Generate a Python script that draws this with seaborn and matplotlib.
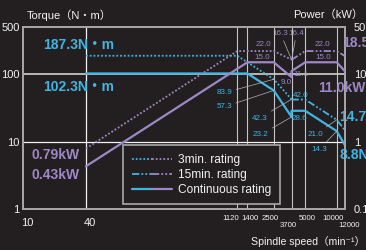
import numpy as np
import pandas as pd
import matplotlib
matplotlib.use("Agg")
import matplotlib.pyplot as plt
import seaborn as sns
from matplotlib.lines import Line2D
from matplotlib.legend_handler import HandlerTuple

# ---------------- data ----------------
low_3min_speed = [40, 1120, 2500, 3700]
low_3min_torque = [187.3, 187.3, 83.9, 42.3]
low_3min_power = [0.79, 22.0, 22.0, 16.4]

high_15min_speed = [3700, 5000, 10000, 12000]
high_15min_torque = [42.0, 42.0, 21.0, 14.7]
high_15min_power = [16.3, 22.0, 22.0, 18.5]

cont_torque_speed = [40, 1400, 2500, 3700, 3700, 5000, 10000, 12000]
cont_torque = [102.3, 102.3, 57.3, 23.2, 28.6, 28.6, 14.3, 8.8]
cont_power_speed = [40, 1400, 2500, 3700, 3700, 5000, 10000, 12000]
cont_power = [0.43, 15.0, 15.0, 9.0, 11.1, 15.0, 15.0, 11.0]

speed_ticks = [10, 40, 1120, 1400, 2500, 3700, 5000, 10000, 12000]
speed_tick_labels = ["10", "40", "1120", "1400", "2500", "3700", "5000", "10000", "12000"]
torque_ticks = [1, 10, 100, 500]
torque_tick_labels = ["1", "10", "100", "500"]
power_ticks = [0.1, 1, 10, 50]
power_tick_labels = ["0.1", "1", "10", "50"]
legend_labels = ["3min. rating", "15min. rating", "Continuous rating"]

# ---------------- style ----------------
BG = "#231f20"
CYAN = "#3fb5e3"
PURPLE = "#9d88c6"
GRID = "#c4c4c4"
WHITE = "#f2f2f2"
SPINE = "#a8a8a8"
LEADER = "#b4b4b4"

sns.set_theme(style="dark")
plt.rcParams["font.family"] = ["Liberation Sans", "Noto Sans CJK JP", "DejaVu Sans"]

fig = plt.figure(figsize=(3.66, 2.5), dpi=100, facecolor=BG)
L, R, T, B = 23, 345, 27, 209
W, H = 366, 250
ax = fig.add_axes([L / W, 1 - B / H, (R - L) / W, (B - T) / H])
ax.set_facecolor(BG)
ax2 = ax.twinx()
ax2.patch.set_visible(False)

for a in (ax, ax2):
    a.set_xscale("log")
    a.set_yscale("log")
    a.grid(False)
    for s in a.spines.values():
        s.set_color(SPINE)
        s.set_linewidth(1.2)
ax.set_xlim(10, 12000)
ax.set_ylim(1, 500)
ax2.set_ylim(0.1, 50)

# reference lines
for v in speed_ticks[2:-1]:
    ax.axvline(v, color=GRID, lw=0.8, zorder=1)
ax.axvline(speed_ticks[1], color=WHITE, lw=0.9, zorder=1)
ax.axhline(torque_ticks[2], color=GRID, lw=1.3, zorder=1)
ax.axhline(torque_ticks[1], color=WHITE, lw=0.9, zorder=1)

# ticks
ax.set_xticks(speed_ticks)
ax.set_xticklabels([])
ax.xaxis.set_minor_locator(matplotlib.ticker.NullLocator())
ax.set_yticks(torque_ticks)
ax.set_yticklabels(torque_tick_labels)
ax.yaxis.set_minor_locator(matplotlib.ticker.NullLocator())
ax2.set_yticks(power_ticks)
ax2.set_yticklabels(power_tick_labels)
ax2.yaxis.set_minor_locator(matplotlib.ticker.NullLocator())
ax.tick_params(axis="both", length=0, colors=WHITE, labelsize=8, pad=2.5)
ax2.tick_params(axis="y", length=0, colors=WHITE, labelsize=8, pad=6.5)
ax2.tick_params(axis="x", length=0)

big = {"10", "40"}
xoff = {"10": 4, "40": 4, "1120": -7, "1400": 3, "2500": -4, "3700": -3,
        "5000": 2, "10000": -4, "12000": 4}
lower = {"3700", "12000"}
for v, lab in zip(speed_ticks, speed_tick_labels):
    fs = 8 if lab in big else 5.6
    dy = -9 if lab in big else -6
    if lab in lower:
        dy = -13
    ax.annotate(lab, xy=(v, 0), xycoords=("data", "axes fraction"),
                xytext=(xoff[lab], dy), textcoords="offset pixels",
                ha="center", va="top", fontsize=fs, color=WHITE,
                annotation_clip=False)

# ---------------- curves ----------------
DOT = (1.0, 1.1)
DASHDOT = (4, 1.2, 1, 1.2, 1, 1.2)
LW_D, LW_S = 1.3, 1.6

def draw(a, xs, ys, color, dashes, lw):
    df = pd.DataFrame({"speed": xs, "value": ys})
    sns.lineplot(data=df, x="speed", y="value", ax=a, color=color,
                 estimator=None, sort=False, lw=lw, zorder=3,
                 dashes=False, legend=False)
    line = a.lines[-1]
    if dashes is not None:
        line.set_dashes(dashes)

draw(ax, low_3min_speed, low_3min_torque, CYAN, DOT, LW_D)
draw(ax, high_15min_speed, high_15min_torque, CYAN, DASHDOT, LW_D)
draw(ax, cont_torque_speed, cont_torque, CYAN, None, LW_S)
draw(ax2, low_3min_speed, low_3min_power, PURPLE, DOT, LW_D)
draw(ax2, high_15min_speed, high_15min_power, PURPLE, DASHDOT, LW_D)
draw(ax2, cont_power_speed, cont_power, PURPLE, None, LW_S)
ax.set_xlabel("")
ax.set_ylabel("")
ax2.set_xlabel("")
ax2.set_ylabel("")
ax.set_xlim(10, 12000)
ax.set_ylim(1, 500)
ax2.set_ylim(0.1, 50)

# ---------------- annotations ----------------
def note(a, x, y, text, dx, dy, color, fs=5.8, leader=False, ha="center", bold=False):
    kw = {}
    if leader:
        kw["arrowprops"] = dict(arrowstyle="-", color=LEADER, lw=0.5,
                                shrinkA=0.5, shrinkB=0)
    a.annotate(text, xy=(x, y), xytext=(dx, dy), textcoords="offset pixels",
               ha=ha, va="center", fontsize=fs, color=color,
               fontweight="bold" if bold else "normal",
               annotation_clip=False, zorder=5, **kw)

fmt = lambda v: f"{v:.1f}"
# big value labels
note(ax, low_3min_speed[0], low_3min_torque[0], f"{low_3min_torque[0]}N・m", -7, 10.7, CYAN, 10, bold=True)
note(ax, cont_torque_speed[0], cont_torque[0], f"{cont_torque[0]}N・m", -7, -13.6, CYAN, 10, bold=True)
note(ax2, low_3min_speed[0], low_3min_power[0], f"{low_3min_power[0]}kW", -30, -6.6, PURPLE, 10, bold=True)
note(ax2, cont_power_speed[0], cont_power[0], f"{cont_power[0]}kW", -30, -8.8, PURPLE, 10, bold=True)
note(ax2, high_15min_speed[-1], high_15min_power[-1], f"{high_15min_power[-1]}kW", -3, 13, PURPLE, 10, ha="left", bold=True)
note(ax2, cont_power_speed[-1], cont_power[-1], f"{cont_power[-1]}kW", -3, -16.7, PURPLE, 10, bold=True)
note(ax, high_15min_speed[-1], high_15min_torque[-1], f"{high_15min_torque[-1]}N・m", -6, 13, CYAN, 10, ha="left", bold=True)
note(ax, cont_torque_speed[-1], cont_torque[-1], f"{cont_torque[-1]}N・m", -6, -9.7, CYAN, 10, ha="left", bold=True)

# small power labels
note(ax2, low_3min_speed[2], low_3min_power[2], fmt(low_3min_power[2]), -10.6, 7, PURPLE)
note(ax2, high_15min_speed[2], high_15min_power[2], fmt(high_15min_power[2]), -14, 7, PURPLE)
note(ax2, cont_power_speed[2], cont_power[2], fmt(cont_power[2]), -11.6, 5.2, PURPLE)
note(ax2, cont_power_speed[6], cont_power[6], fmt(cont_power[6]), -14, 5.2, PURPLE)
note(ax2, high_15min_speed[0], high_15min_power[0], fmt(high_15min_power[0]), -11, 26.5, PURPLE, leader=True)
note(ax2, low_3min_speed[3], low_3min_power[3], fmt(low_3min_power[3]), 5, 26.5, PURPLE, leader=True)
note(ax2, cont_power_speed[4], cont_power[4], fmt(cont_power[4]), 9, -3, PURPLE)
note(ax2, cont_power_speed[3], cont_power[3], fmt(cont_power[3]), -5, -5, PURPLE)

# small torque labels
note(ax, low_3min_speed[2], low_3min_torque[2], fmt(low_3min_torque[2]), -49.6, -13.6, CYAN, leader=True)
note(ax, cont_torque_speed[2], cont_torque[2], fmt(cont_torque[2]), -49.6, -16.5, CYAN, leader=True)
note(ax, high_15min_speed[0], high_15min_torque[0], fmt(high_15min_torque[0]), 9, 4.5, CYAN)
note(ax, cont_torque_speed[4], cont_torque[4], fmt(cont_torque[4]), 8, -7.3, CYAN)
note(ax, low_3min_speed[3], low_3min_torque[3], fmt(low_3min_torque[3]), -32, -18.7, CYAN, leader=True)
note(ax, cont_torque_speed[3], cont_torque[3], fmt(cont_torque[3]), -31, -18, CYAN, leader=True)
note(ax, high_15min_speed[2], high_15min_torque[2], fmt(high_15min_torque[2]), -21, -14.2, CYAN, leader=True)
note(ax, cont_torque_speed[6], cont_torque[6], fmt(cont_torque[6]), -17, -18, CYAN, leader=True)

# ---------------- legend ----------------
handles = []
for dashes, lw in ((DOT, LW_D), (DASHDOT, LW_D), (None, LW_S)):
    pair = []
    for c in (CYAN, PURPLE):
        ln = Line2D([], [], color=c, lw=lw)
        if dashes is not None:
            ln.set_dashes(dashes)
        pair.append(ln)
    handles.append(tuple(pair))
leg = ax2.legend(handles, legend_labels, handler_map={tuple: HandlerTuple(ndivide=None, pad=0)},
                 loc="lower left", bbox_to_anchor=(0.311, 0.027), borderaxespad=0,
                 fontsize=8.6, handlelength=3.4, handletextpad=0.5, borderpad=0.7,
                 labelspacing=0.25, frameon=True, fancybox=False, facecolor=BG,
                 edgecolor=SPINE, framealpha=1)
leg.get_frame().set_linewidth(1.2)
for t in leg.get_texts():
    t.set_color(WHITE)
leg.set_zorder(6)

# ---------------- axis titles ----------------
fig.text(27 / W, 1 - 15 / H, "Torque（N・m）", ha="left", va="center", fontsize=8, color=WHITE)
fig.text(293 / W, 1 - 15 / H, "Power（kW）", ha="left", va="center", fontsize=8, color=WHITE)
fig.text(251 / W, 1 - 241 / H, "Spindle speed（min⁻¹）", ha="left", va="center", fontsize=7.6, color=WHITE)

fig.savefig("out.png", dpi=100, facecolor=BG)
